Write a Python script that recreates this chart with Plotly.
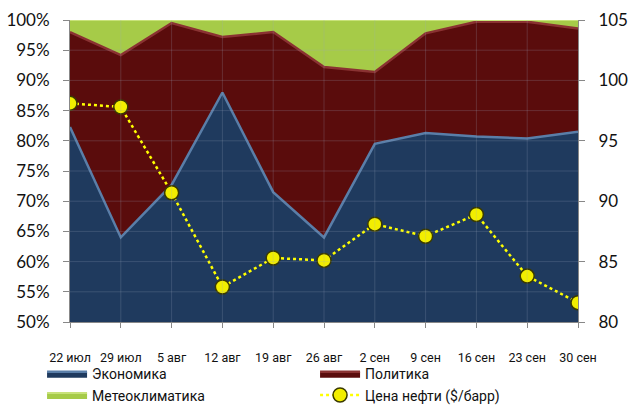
import plotly.graph_objects as go

categories = ["22 июл", "29 июл", "5 авг", "12 авг", "19 авг", "26 авг",
              "2 сен", "9 сен", "16 сен", "23 сен", "30 сен"]
economy = [82.3, 64.0, 72.7, 88.0, 71.5, 64.0, 79.5, 81.3, 80.7, 80.4, 81.5]
politics = [15.7, 30.2, 26.8, 9.2, 26.5, 28.2, 11.9, 16.5, 19.0, 19.3, 17.1]
meteo = [2.0, 5.8, 0.5, 2.8, 2.0, 7.8, 8.6, 2.2, 0.3, 0.3, 1.4]
oil = [98.1, 97.8, 90.7, 82.9, 85.3, 85.1, 88.1, 87.1, 88.9, 83.8, 81.6]
left_ticks = [50, 55, 60, 65, 70, 75, 80, 85, 90, 95, 100]
right_ticks = [80, 85, 90, 95, 100, 105]

xs = list(range(len(categories)))
narrow = "Roboto, sans-serif"

fig = go.Figure()
fig.add_trace(go.Scatter(x=xs, y=economy, name="Экономика", stackgroup="s",
                         mode="lines", line=dict(color="#5A7EA8", width=2.5),
                         fillcolor="#1F3A5E"))
fig.add_trace(go.Scatter(x=xs, y=politics, name="Политика", stackgroup="s",
                         mode="lines", line=dict(color="#8A3232", width=2.5),
                         fillcolor="#5A0C0C"))
fig.add_trace(go.Scatter(x=xs, y=meteo, name="Метеоклиматика", stackgroup="s",
                         mode="lines", line=dict(color="#C8E27A", width=2),
                         fillcolor="#A6CB48"))
fig.add_trace(go.Scatter(x=xs, y=oil, name="Цена нефти ($/барр)", yaxis="y2",
                         mode="lines+markers",
                         line=dict(color="#FFFF00", width=2.5, dash="dot"),
                         marker=dict(size=14, color="#F2EE00",
                                     line=dict(color="#3A3A00", width=1.5))))

# faint gridlines drawn over the filled areas
for v in left_ticks[1:-1]:
    fig.add_shape(type="line", xref="paper", yref="y", x0=0, x1=1, y0=v, y1=v,
                  line=dict(color="rgba(160,170,190,0.22)", width=1), layer="above")
for i in xs[1:-1]:
    fig.add_shape(type="line", xref="x", yref="paper", x0=i, x1=i, y0=0, y1=1,
                  line=dict(color="rgba(160,170,190,0.22)", width=1), layer="above")

fig.update_layout(
    width=628, height=408,
    margin=dict(l=70, r=50, t=20, b=86, autoexpand=False),
    paper_bgcolor="white", plot_bgcolor="white",
    showlegend=True,
    legend=dict(orientation="h", x=-0.055, xanchor="left", y=-0.12, yanchor="top",
                traceorder="normal", bgcolor="rgba(0,0,0,0)",
                entrywidth=218, entrywidthmode="pixels",
                font=dict(family=narrow, size=14, color="#111"),
                itemwidth=40, tracegroupgap=0),
    xaxis=dict(range=[0, 10], tickmode="array", tickvals=xs, ticktext=categories,
               showgrid=False, zeroline=False, showline=True, linecolor="#888",
               linewidth=1, ticks="outside", ticklen=5, tickcolor="#888",
               ticklabelstandoff=19,
               tickfont=dict(family=narrow, size=12.5, color="#111")),
    yaxis=dict(range=[50, 100], tickmode="array", tickvals=left_ticks,
               ticktext=[f"{v}%" for v in left_ticks],
               showgrid=False, zeroline=False, showline=True, linecolor="#888",
               ticks="outside", ticklen=6, tickcolor="#888",
               ticklabelstandoff=10,
               tickfont=dict(family="Lato, sans-serif", size=17, color="#111")),
    yaxis2=dict(range=[80, 105], tickmode="array", tickvals=right_ticks,
                overlaying="y", side="right", showgrid=False, zeroline=False,
                showline=True, linecolor="#888", ticks="outside", ticklen=6,
                tickcolor="#888", ticklabelstandoff=10,
                tickfont=dict(family="Lato, sans-serif", size=17, color="#111")),
)

fig.write_html("out.html", config={"displayModeBar": False},
               post_script="document.body.style.margin='0';document.body.style.overflow='hidden';")
